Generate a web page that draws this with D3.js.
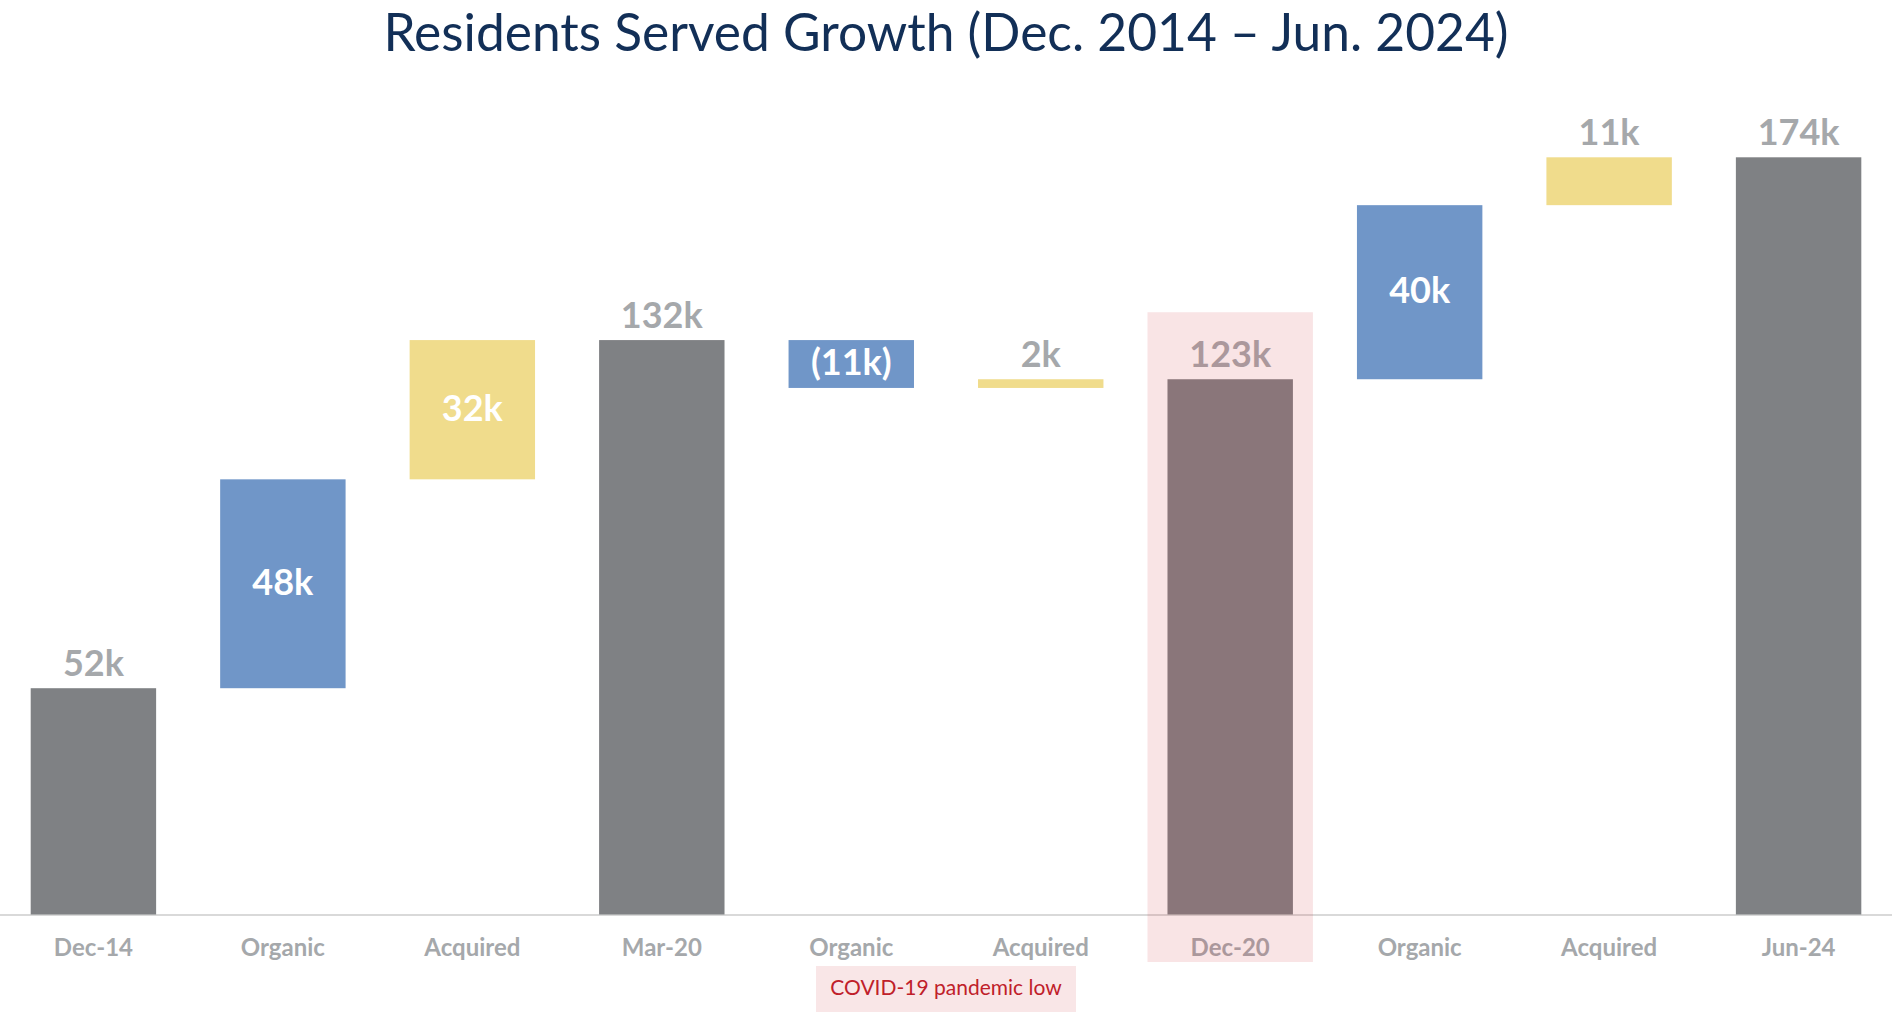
<!DOCTYPE html>
<html>
<head>
<meta charset="utf-8">
<script src="https://cdn.jsdelivr.net/npm/d3@7"></script>
<style>
  html, body { margin: 0; padding: 0; background: #ffffff; }
  svg { display: block; }
  text { font-family: Lato, "Open Sans", sans-serif; }
</style>
</head>
<body>
<svg id="chart" width="1892" height="1012"></svg>
<script>
// ---- data ----
const title = "Residents Served Growth (Dec. 2014 \u2013 Jun. 2024)";
const categories = ["Dec-14", "Organic", "Acquired", "Mar-20", "Organic", "Acquired", "Dec-20", "Organic", "Acquired", "Jun-24"];
const values = [52, 48, 32, 132, -11, 2, 123, 40, 11, 174];
const barKinds = ["total", "organic", "acquired", "total", "organic", "acquired", "total", "organic", "acquired", "total"];
const valueLabels = ["52k", "48k", "32k", "132k", "(11k)", "2k", "123k", "40k", "11k", "174k"];
const highlightIndex = 6;
const noteText = "COVID-19 pandemic low";

// ---- style ----
const W = 1892, H = 1012;
const colors = { total: "#7f8184", organic: "#7096c8", acquired: "#f0dc8c" };
const labelGrey = "#a5a8ab";
const insideLabel = new Set([1, 2, 4, 7]);

const svg = d3.select("#chart");

// waterfall extents
let running = 0;
const bars = values.map((v, i) => {
  let lo, hi;
  if (barKinds[i] === "total") { lo = 0; hi = v; running = v; }
  else { const start = running; running = start + v; lo = Math.min(start, running); hi = Math.max(start, running); }
  return { i, lo, hi, kind: barKinds[i], label: valueLabels[i], cat: categories[i] };
});

const x = d3.scaleBand().domain(d3.range(categories.length)).range([0, W]).paddingInner(0.338).paddingOuter(0.162);
const y = d3.scaleLinear().domain([0, 174]).range([914.5, 157.3]);

// title
svg.append("text")
  .attr("x", W / 2).attr("y", 51)
  .attr("text-anchor", "middle")
  .attr("fill", "#122f57")
  .attr("font-size", 51.5)
  .text(title);

// axis
const axis = svg.append("g").attr("transform", `translate(0,${y(0)})`)
  .call(d3.axisBottom(x).tickSize(0).tickPadding(0).tickFormat(i => categories[i]));
axis.select(".domain").attr("d", `M0,0.5H${W}`).attr("stroke", "#d9d9d9").attr("stroke-width", 2);
axis.selectAll(".tick text")
  .attr("y", 41.5).attr("dy", null)
  .attr("fill", labelGrey)
  .attr("font-size", 24)
  .attr("font-weight", 700)
  .attr("font-family", "Lato, sans-serif");

// bars
svg.append("g").selectAll("rect").data(bars).join("rect")
  .attr("x", d => x(d.i))
  .attr("width", x.bandwidth())
  .attr("y", d => y(d.hi))
  .attr("height", d => y(d.lo) - y(d.hi))
  .attr("fill", d => colors[d.kind]);

// value labels
svg.append("g").selectAll("text").data(bars).join("text")
  .attr("x", d => x(d.i) + x.bandwidth() / 2)
  .attr("y", d => insideLabel.has(d.i) ? (y(d.hi) + y(d.lo)) / 2 + 11 : y(d.hi) - 12.5)
  .attr("text-anchor", "middle")
  .attr("font-size", 36)
  .attr("font-weight", 700)
  .attr("fill", d => insideLabel.has(d.i) ? "#ffffff" : labelGrey)
  .text(d => d.label);

// highlight overlay
const hb = bars[highlightIndex];
svg.append("rect")
  .attr("x", x(hb.i) - 20)
  .attr("width", x.bandwidth() + 40)
  .attr("y", y(hb.hi) - 67)
  .attr("height", 962 - (y(hb.hi) - 67))
  .attr("fill", "#d2373e")
  .attr("fill-opacity", 0.135);

// note box
const noteCx = W / 2;
svg.append("rect")
  .attr("x", noteCx - 130).attr("y", 966)
  .attr("width", 260).attr("height", H - 966)
  .attr("fill", "#d2373e").attr("fill-opacity", 0.125);
svg.append("text")
  .attr("x", noteCx).attr("y", 995)
  .attr("text-anchor", "middle")
  .attr("font-size", 21)
  .attr("fill", "#c0202a")
  .text(noteText);
</script>
</body>
</html>
